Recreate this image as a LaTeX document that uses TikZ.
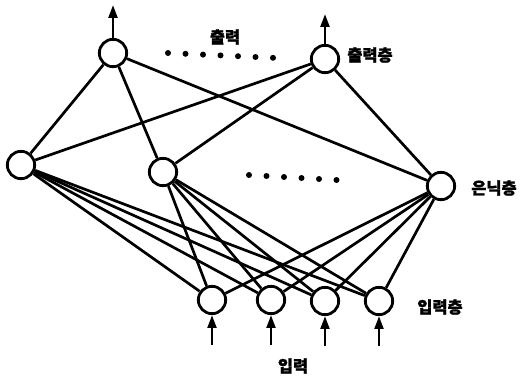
\documentclass[tikz,border=0pt]{standalone}
\usepackage{fontspec}
\setmainfont{Noto Sans CJK KR}[BoldFeatures={FakeBold=1.5}]
\usepackage{tikz}
\usetikzlibrary{positioning,arrows.meta}

\begin{document}
\begin{tikzpicture}[
  x=0.03cm, y=-0.03cm,
  every node/.style={font=\fontsize{14pt}{16pt}\selectfont\bfseries},
  neuron/.style={draw=black, circle, line width=2.4pt, fill=white, minimum size=0.82cm, inner sep=0pt},
  lbl/.style={inner sep=0pt},
  link/.style={line width=2.3pt, draw=black},
  arr/.style={-{Triangle[length=11pt, width=7.5pt]}, line width=2.3pt, draw=black}
]
\useasboundingbox (0,0) rectangle (522,378);

% Output layer
\node[neuron] (o1) at (113,53) {};
\node[neuron] (o2) at (325,59) {};

% Hidden layer
\node[neuron] (h1) at (21,165) {};
\node[neuron] (h2) at (163,172) {};
\node[neuron] (h3) at (441,186) {};

% Input layer
\node[neuron] (i1) at (212,300) {};
\node[neuron] (i2) at (271,300) {};
\node[neuron] (i3) at (325,301) {};
\node[neuron] (i4) at (379,301) {};

% Free arrow ends
\coordinate (y1) at (113,5);
\coordinate (y2) at (325,14);
\coordinate (x1) at (212,345);
\coordinate (x2) at (271,345);
\coordinate (x3) at (325,346);
\coordinate (x4) at (379,346);

% Labels
\node[lbl] (tout) at (225,37) {출력};
\node[lbl] (lout) at (370,55) {출력층};
\node[lbl] (lhid) at (494,188) {은닉층};
\node[lbl] (lin) at (440,307) {입력층};
\node[lbl] (tin) at (293,366) {입력};

% Ellipsis dots
\foreach \i in {0,...,6}
  \fill (168+17.5*\i, 53+0.8*\i) circle (3);
\foreach \i in {0,...,5}
  \fill (249+17.5*\i, 175+1*\i) circle (3);

% Hidden -> output
\draw[link] (h1) -- (o1);
\draw[link] (h1) -- (o2);
\draw[link] (h2) -- (o1);
\draw[link] (h2) -- (o2);
\draw[link] (h3) -- (o1);
\draw[link] (h3) -- (o2);

% Input -> hidden
\draw[link] (i1) -- (h1);
\draw[link] (i2) -- (h1);
\draw[link] (i3) -- (h1);
\draw[link] (i4) -- (h1);
\draw[link] (i1) -- (h2);
\draw[link] (i2) -- (h2);
\draw[link] (i3) -- (h2);
\draw[link] (i4) -- (h2);
\draw[link] (i1) -- (h3);
\draw[link] (i2) -- (h3);
\draw[link] (i3) -- (h3);
\draw[link] (i4) -- (h3);

% Arrows in and out
\draw[arr] (o1) -- (y1);
\draw[arr] (o2) -- (y2);
\draw[arr] (x1) -- (i1);
\draw[arr] (x2) -- (i2);
\draw[arr] (x3) -- (i3);
\draw[arr] (x4) -- (i4);
\end{tikzpicture}
\end{document}
